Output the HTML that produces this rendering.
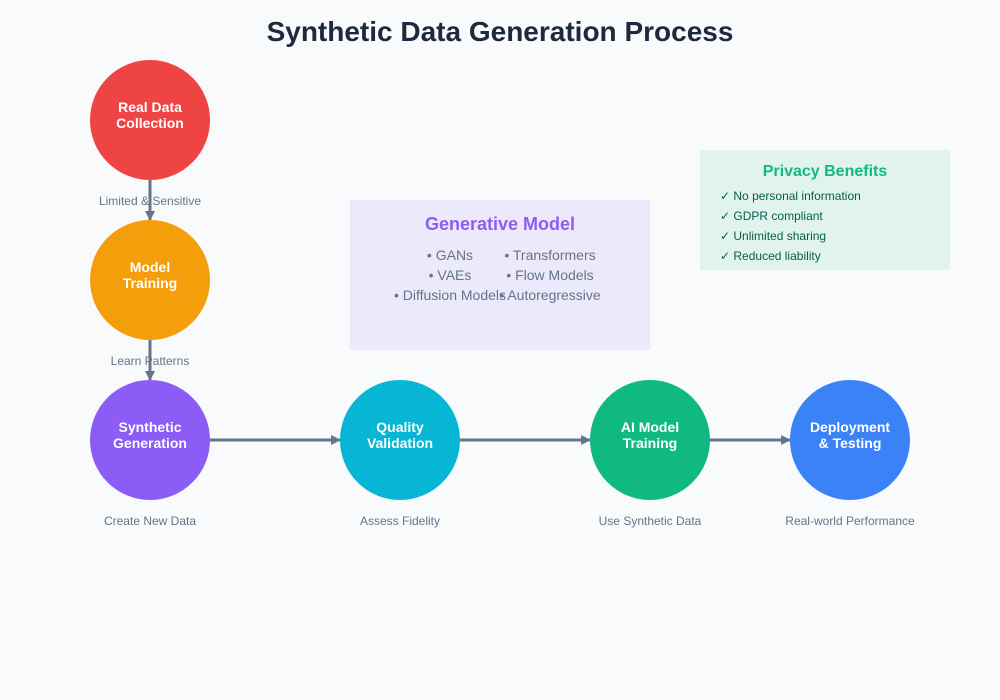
<!DOCTYPE html>
<html><head><meta charset="utf-8"><style>
html,body{margin:0;padding:0;background:#f8fafc;}
svg{display:block;font-family:"Liberation Sans",Arial,sans-serif;}
</style></head><body>
<svg width="1000" height="700" viewBox="0 0 1000 700" xmlns="http://www.w3.org/2000/svg">
<defs>
<marker id="ah" markerWidth="10" markerHeight="10" refX="9" refY="5" orient="auto" markerUnits="userSpaceOnUse">
<polygon points="0,0 10,5 0,10" fill="#64748b"/>
</marker>
</defs>
<rect width="1000" height="700" fill="#f8fafc"/>
<text x="500" y="41" text-anchor="middle" font-size="28" font-weight="bold" fill="#1e293b">Synthetic Data Generation Process</text>

<!-- boxes -->
<rect x="350" y="200" width="300" height="150" fill="#8b5cf6" fill-opacity="0.1"/>
<text x="500" y="230" text-anchor="middle" font-size="18" font-weight="bold" fill="#8b5cf6">Generative Model</text>
<g font-size="14" fill="#64748b" text-anchor="middle">
<text x="450" y="260">• GANs</text>
<text x="450" y="280">• VAEs</text>
<text x="450" y="300">• Diffusion Models</text>
<text x="550" y="260">• Transformers</text>
<text x="550" y="280">• Flow Models</text>
<text x="550" y="300">• Autoregressive</text>
</g>

<rect x="700" y="150" width="250" height="120" fill="#10b981" fill-opacity="0.1"/>
<text x="825" y="176" text-anchor="middle" font-size="16" font-weight="bold" fill="#10b981">Privacy Benefits</text>
<g font-size="12" fill="#065f46">
<text x="720" y="200">✓ No personal information</text>
<text x="720" y="220">✓ GDPR compliant</text>
<text x="720" y="240">✓ Unlimited sharing</text>
<text x="720" y="260">✓ Reduced liability</text>
</g>

<!-- arrows -->
<g stroke="#64748b" stroke-width="3" fill="none">
<line x1="150" y1="180" x2="150" y2="220" marker-end="url(#ah)"/>
<line x1="150" y1="340" x2="150" y2="380" marker-end="url(#ah)"/>
<line x1="210" y1="440" x2="340" y2="440" marker-end="url(#ah)"/>
<line x1="460" y1="440" x2="590" y2="440" marker-end="url(#ah)"/>
<line x1="710" y1="440" x2="790" y2="440" marker-end="url(#ah)"/>
</g>

<!-- circles -->
<circle cx="150" cy="120" r="60" fill="#ef4444"/>
<circle cx="150" cy="280" r="60" fill="#f59e0b"/>
<circle cx="150" cy="440" r="60" fill="#8b5cf6"/>
<circle cx="400" cy="440" r="60" fill="#06b6d4"/>
<circle cx="650" cy="440" r="60" fill="#10b981"/>
<circle cx="850" cy="440" r="60" fill="#3b82f6"/>

<g font-size="14" font-weight="bold" fill="#ffffff" text-anchor="middle">
<text x="150" y="112">Real Data</text><text x="150" y="128">Collection</text>
<text x="150" y="272">Model</text><text x="150" y="288">Training</text>
<text x="150" y="432">Synthetic</text><text x="150" y="448">Generation</text>
<text x="400" y="432">Quality</text><text x="400" y="448">Validation</text>
<text x="650" y="432">AI Model</text><text x="650" y="448">Training</text>
<text x="850" y="432">Deployment</text><text x="850" y="448">&amp; Testing</text>
</g>

<g font-size="12" fill="#64748b" text-anchor="middle">
<text x="150" y="205">Limited &amp; Sensitive</text>
<text x="150" y="365">Learn Patterns</text>
<text x="150" y="525">Create New Data</text>
<text x="400" y="525">Assess Fidelity</text>
<text x="650" y="525">Use Synthetic Data</text>
<text x="850" y="525">Real-world Performance</text>
</g>
</svg>
</body></html>
